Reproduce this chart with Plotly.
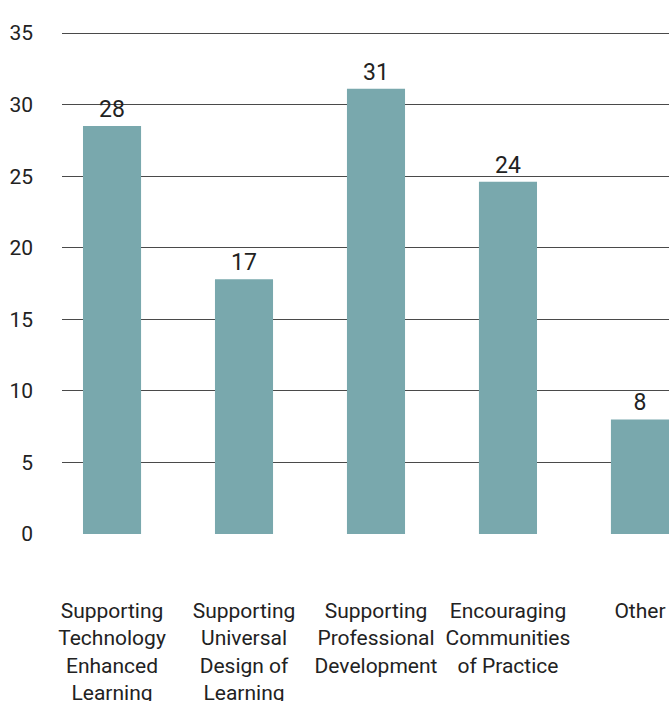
import plotly.graph_objects as go

categories = [
    "Supporting<br>Technology<br>Enhanced<br>Learning",
    "Supporting<br>Universal<br>Design of<br>Learning",
    "Supporting<br>Professional<br>Development",
    "Encouraging<br>Communities<br>of Practice",
    "Other",
]
values = [28.5, 17.8, 31.1, 24.6, 8.0]
value_labels = ["28", "17", "31", "24", "8"]
y_ticks = [0, 5, 10, 15, 20, 25, 30, 35]

FONT = "Roboto, Arial, sans-serif"
TEXT = "#222222"

fig = go.Figure(
    go.Bar(
        x=list(range(len(categories))),
        y=values,
        text=value_labels,
        textposition="outside",
        textfont=dict(family=FONT, size=23, color=TEXT),
        constraintext="none",
        cliponaxis=False,
        marker=dict(color="#79a8ad", line=dict(width=0)),
        width=0.44,
        hoverinfo="skip",
    )
)

fig.update_layout(
    width=669,
    height=701,
    margin=dict(l=62, r=0, t=31, b=167, autoexpand=False),
    paper_bgcolor="white",
    plot_bgcolor="white",
    showlegend=False,
    font=dict(family=FONT, size=20, color=TEXT),
    xaxis=dict(
        range=[-0.379, 4.22],
        tickmode="array",
        tickvals=list(range(len(categories))),
        ticktext=categories,
        showgrid=False,
        zeroline=False,
        showline=False,
        ticks="",
        automargin=False,
        ticklabelstandoff=62,
        tickfont=dict(family=FONT, size=21, color=TEXT),
    ),
    yaxis=dict(
        range=[0, 35.14],
        tickmode="array",
        tickvals=y_ticks,
        showgrid=True,
        gridcolor="#4a4a4a",
        gridwidth=1,
        zeroline=False,
        showline=False,
        ticks="",
        automargin=False,
        ticklabelstandoff=28,
        tickfont=dict(family=FONT, size=21, color=TEXT),
    ),
)

fig.write_html(
    "out.html",
    config={"displayModeBar": False},
    post_script="document.body.style.margin='0';document.body.style.overflow='hidden';",
)
